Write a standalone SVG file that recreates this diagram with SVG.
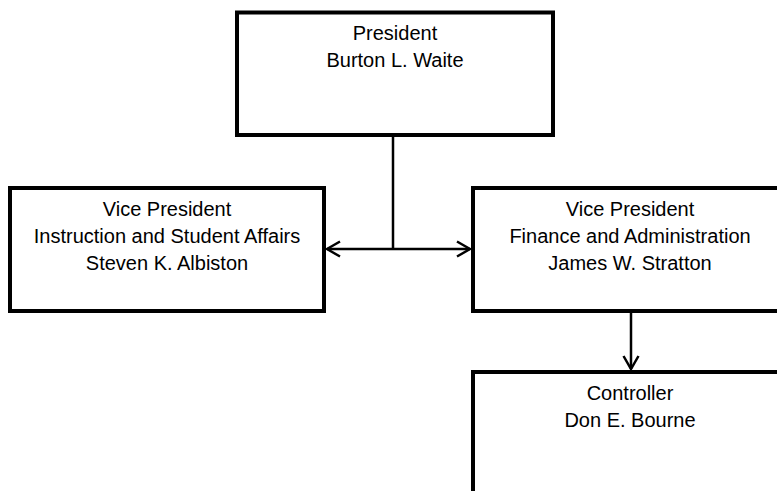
<svg xmlns="http://www.w3.org/2000/svg" width="777" height="491" viewBox="0 0 777 491">
<style>
.box{fill:#fff;stroke:#000;stroke-width:4}
.lbl{font-family:"Liberation Sans",Arial,sans-serif;font-size:20px;fill:#000;text-anchor:middle}
.conn{fill:none;stroke:#000;stroke-width:2.5}
</style>
<defs>
<marker id="arr" markerUnits="userSpaceOnUse" viewBox="-16 -10 18 20" refX="0" refY="0" markerWidth="18" markerHeight="20" orient="auto-start-reverse">
<path d="M-13,-7.5 L0,0 L-13,7.5" fill="none" stroke="#000" stroke-width="2.5"/>
</marker>
</defs>
<rect width="777" height="491" fill="#fff"/>
<g id="connectors">
<line class="conn" x1="393" y1="135" x2="393" y2="249"/>
<line class="conn" x1="327" y1="249" x2="470" y2="249" marker-start="url(#arr)" marker-end="url(#arr)"/>
<line class="conn" x1="631" y1="311" x2="631" y2="369" marker-end="url(#arr)"/>
</g>
<g id="president">
<rect class="box" x="237" y="12.5" width="316" height="122.5"/>
<text class="lbl" x="395" y="40">President</text>
<text class="lbl" x="395" y="67">Burton L. Waite</text>
</g>
<g id="vp-instruction">
<rect class="box" x="10" y="188" width="314" height="123"/>
<text class="lbl" x="167" y="216">Vice President</text>
<text class="lbl" x="167" y="243">Instruction and Student Affairs</text>
<text class="lbl" x="167" y="270">Steven K. Albiston</text>
</g>
<g id="vp-finance">
<rect class="box" x="473" y="188" width="314" height="123"/>
<text class="lbl" x="630" y="216">Vice President</text>
<text class="lbl" x="630" y="243">Finance and Administration</text>
<text class="lbl" x="630" y="270">James W. Stratton</text>
</g>
<g id="controller">
<rect class="box" x="473" y="372" width="314" height="140"/>
<text class="lbl" x="630" y="400">Controller</text>
<text class="lbl" x="630" y="427">Don E. Bourne</text>
</g>
</svg>
